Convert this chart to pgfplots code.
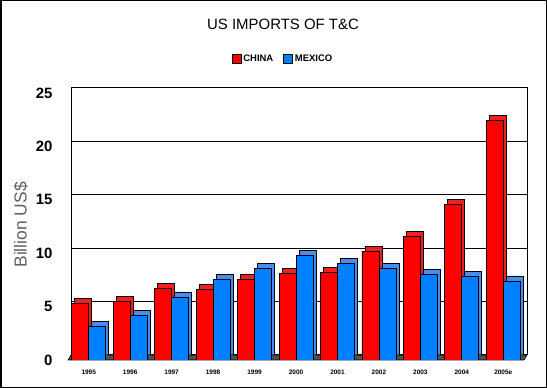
\documentclass[border=0pt]{standalone}
\usepackage{fontspec}
\setmainfont{Liberation Sans}
\usepackage{pgfplots}
\pgfplotsset{compat=1.18}
\definecolor{cred}{HTML}{FF0000}
\definecolor{cblue}{HTML}{0080FF}
\definecolor{credtop}{HTML}{F02020}
\definecolor{cbluetop}{HTML}{4A8CEE}
\definecolor{floorgray}{HTML}{505050}
\definecolor{labgray}{HTML}{606060}
\begin{document}
\begin{tikzpicture}
\draw[line width=1.5bp] (0.75bp,0.75bp) rectangle (546.25bp,387.25bp);
% back wall with depth of bars
\begin{axis}[
  at={(71bp,33bp)}, anchor=south west,
  scale only axis, width=456bp, height=267bp,
  xmin=-0.5, xmax=10.5, ymin=0, ymax=25,
  ytick={0,5,...,25}, yticklabels={},
  xtick=\empty,
  ymajorgrids, grid style={black, line width=1bp},
  major tick length=0pt,
  axis line style={black, line width=1bp},
  ybar, bar width=17bp,
]
\addplot[fill=credtop, draw=black, line width=0.8bp, bar shift=-8.5bp] coordinates {
(0,5.3) (1,5.5) (2,6.7) (3,6.6) (4,7.5) (5,8.1) (6,8.2) (7,10.2) (8,11.6) (9,14.6) (10,22.4)};
\addplot[fill=cbluetop, draw=black, line width=0.8bp, bar shift=8.5bp] coordinates {
(0,3.1) (1,4.2) (2,5.9) (3,7.5) (4,8.6) (5,9.8) (6,9.0) (7,8.6) (8,8.0) (9,7.8) (10,7.4)};
\end{axis}
\filldraw[fill=floorgray, draw=black, line width=0.6bp] (68bp,28bp)--(524bp,28bp)--(527bp,33bp)--(71bp,33bp)--cycle;
% front bars
\begin{axis}[
  at={(68bp,28bp)}, anchor=south west,
  scale only axis, width=456bp, height=267bp,
  xmin=-0.5, xmax=10.5, ymin=0, ymax=25,
  ytick={0,5,...,25},
  xtick={0,...,10},
  xticklabels={1995,1996,1997,1998,1999,2000,2001,2002,2003,2004,2005e},
  xticklabel style={font=\bfseries\fontsize{6.5}{7}\selectfont, yshift=-6bp},
  yticklabel style={font=\bfseries\fontsize{15}{16}\selectfont, xshift=-12bp},
  /pgf/number format/assume math mode=true,
  major tick length=0pt,
  axis line style={draw=none},
  ybar, bar width=17bp,
  ylabel={Billion US\$},
  ylabel style={at={(axis description cs:-0.1037,0.506)}, anchor=center, font=\fontsize{17.5}{18}\selectfont, text=labgray},
  title={US IMPORTS OF T\&C},
  title style={at={(axis description cs:0.4715,1.235)}, anchor=center, font=\fontsize{15}{16}\selectfont},
  legend style={at={(axis description cs:0.4715,1.128)}, anchor=center, draw=none, fill=none,
    legend columns=2, font=\bfseries\fontsize{9.5}{10}\selectfont,
    /tikz/every even column/.append style={column sep=8bp}},
  legend image code/.code={\draw[#1, line width=0.6bp] (0bp,-4.5bp) rectangle (9bp,4.5bp);},
]
\addplot[fill=cred, draw=black, line width=0.8bp, bar shift=-8.5bp] coordinates {
(0,5.3) (1,5.5) (2,6.7) (3,6.6) (4,7.5) (5,8.1) (6,8.2) (7,10.2) (8,11.6) (9,14.6) (10,22.4)};
\addplot[fill=cblue, draw=black, line width=0.8bp, bar shift=8.5bp] coordinates {
(0,3.1) (1,4.2) (2,5.9) (3,7.5) (4,8.6) (5,9.8) (6,9.0) (7,8.6) (8,8.0) (9,7.8) (10,7.4)};
\legend{CHINA,MEXICO}
\end{axis}
\end{tikzpicture}
\end{document}
